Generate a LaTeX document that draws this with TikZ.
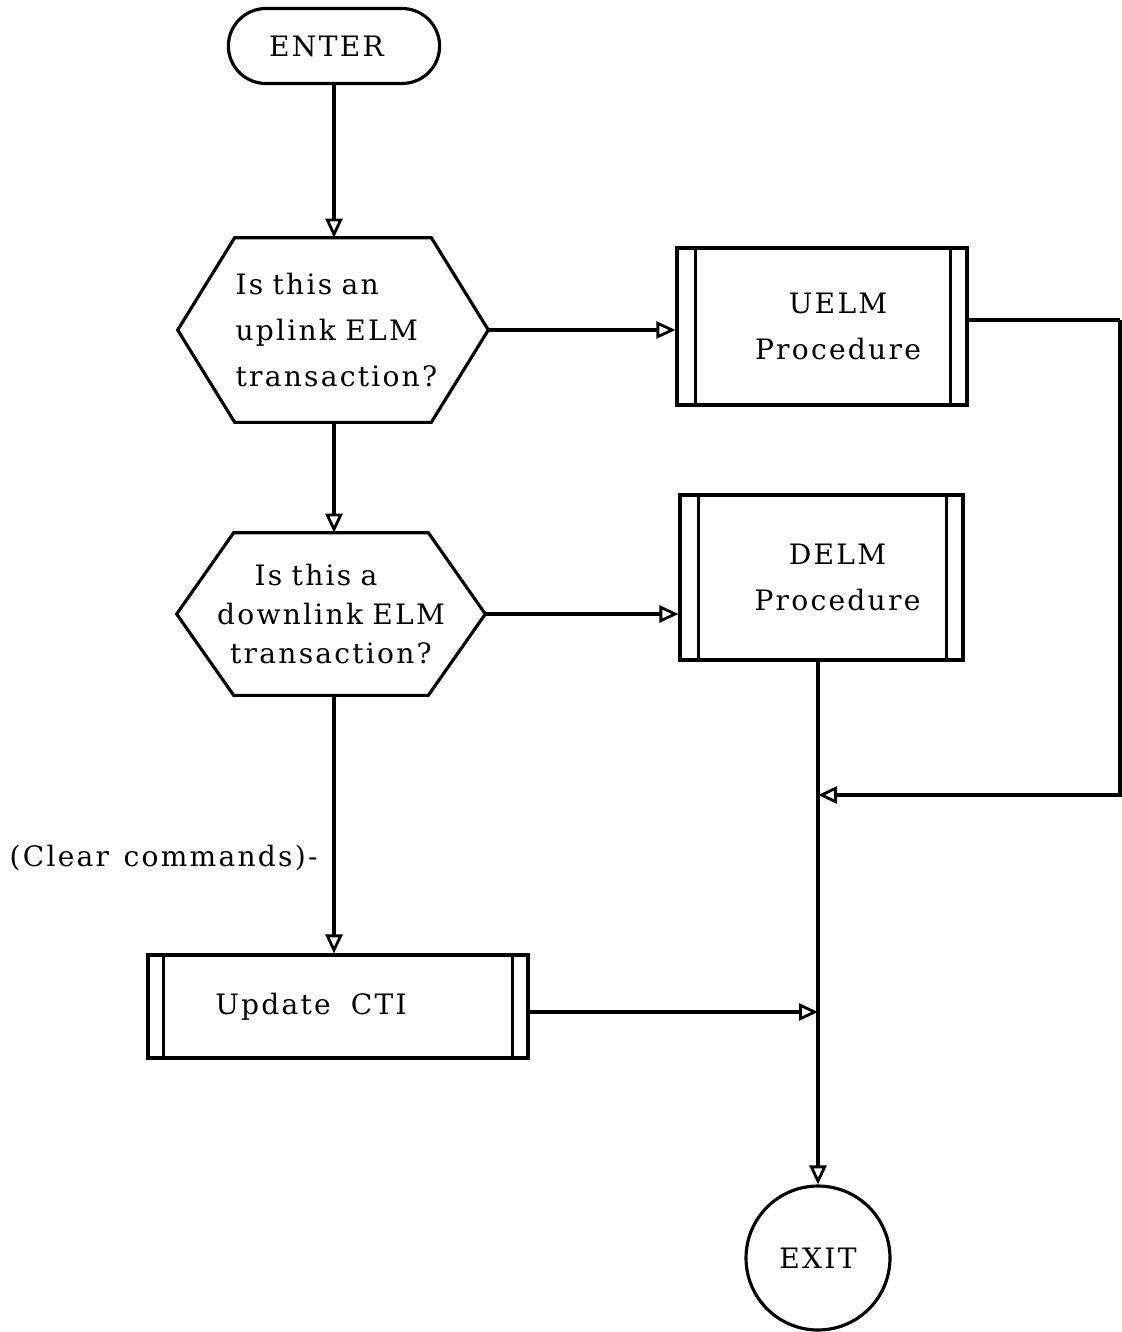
\documentclass[tikz,border=0pt]{standalone}
\usepackage{fontspec}
\setmainfont[LetterSpace=8,WordSpace=1.3]{DejaVu Serif}
\usetikzlibrary{arrows.meta,shapes.misc,calc}
\tikzset{
  ln/.style={line width=1.8pt},
  arr/.style={line width=1.8pt,-{Triangle[open,length=0.38cm,width=0.34cm,line width=1.6pt]}},
  txt/.style={font=\fontsize{16}{26}\selectfont},
  term/.style={draw,ln,rounded rectangle,txt},
  hexn/.style={txt,align=left,inner sep=0pt},
  proc/.style={draw,ln,rectangle,txt,align=center},
  endc/.style={draw,ln,circle,txt}
}
\begin{document}
\begin{tikzpicture}[x=0.02cm,y=-0.02cm]
\useasboundingbox (0,0) rectangle (1122,1332);
% nodes
\node[term,minimum width=4.46cm,minimum height=1.5cm] (enter) at (334,46) {\hspace*{-0.3cm}ENTER};
\node[hexn,minimum width=6.2cm,minimum height=3.68cm,text width=3.9cm,align=left] (q1) at (333,330) {Is this an\\uplink ELM\\transaction?};
\node[hexn,minimum width=6.16cm,minimum height=3.24cm,text width=5.2cm,align=center,font=\fontsize{16}{22}\selectfont] (q2) at (331,614) {\hspace*{-0.6cm}Is this a\\downlink ELM\\transaction?};
\node[proc,minimum width=5.8cm,minimum height=3.14cm] (u) at (822,326.5) {\hspace*{0.64cm}UELM\\\hspace*{0.64cm}Procedure};
\node[proc,minimum width=5.66cm,minimum height=3.3cm] (d) at (821.5,577.5) {\hspace*{0.64cm}DELM\\\hspace*{0.64cm}Procedure};
\node[proc,minimum width=7.6cm,minimum height=2.06cm] (upd) at (338,1006.5) {\hspace*{-1.08cm}Update\hspace{0.4cm}CTI};
\node[endc,minimum size=2.88cm] (exit) at (818,1258) {EXIT};
\node[txt,anchor=east,inner sep=0pt] (cc) at (318,858) {(Clear commands)-};
% hexagon outlines
\foreach \h in {q1,q2}{
  \draw[ln] (\h.west) -- ($(\h.north west)+(57,0)$) -- ($(\h.north east)+(-57,0)$) -- (\h.east)
     -- ($(\h.south east)+(-57,0)$) -- ($(\h.south west)+(57,0)$) -- cycle;
}
% predefined-process side bars
\draw[ln] ([xshift=0.4cm]u.north west) -- ([xshift=0.4cm]u.south west);
\draw[ln] ([xshift=-0.36cm]u.north east) -- ([xshift=-0.36cm]u.south east);
\draw[ln] ([xshift=0.4cm]d.north west) -- ([xshift=0.4cm]d.south west);
\draw[ln] ([xshift=-0.36cm]d.north east) -- ([xshift=-0.36cm]d.south east);
\draw[ln] ([xshift=0.34cm]upd.north west) -- ([xshift=0.34cm]upd.south west);
\draw[ln] ([xshift=-0.34cm]upd.north east) -- ([xshift=-0.34cm]upd.south east);
% coordinates
\coordinate (j1) at (exit.north |- 0,795);
\coordinate (j2) at (exit.north |- 0,1012);
\coordinate (r0) at (u.east |- 0,320);
\coordinate (r1) at (1120,320);
% connectors
\draw[arr] (enter.south) -- (enter.south |- q1.north);
\draw[arr] (q1.east) -- (q1.east -| u.west);
\draw[arr] (q1.south -| enter.south) -- (enter.south |- q2.north);
\draw[arr] (q2.east) -- (q2.east -| d.west);
\draw[arr] (q2.south -| enter.south) -- (enter.south |- upd.north);
\draw[ln] (r0) -- (r1);
\draw[arr] (r1) |- (j1);
\draw[arr] (d.south -| exit.north) -- (exit.north);
\draw[arr] (upd.east |- j2) -- (j2);
\end{tikzpicture}
\end{document}
